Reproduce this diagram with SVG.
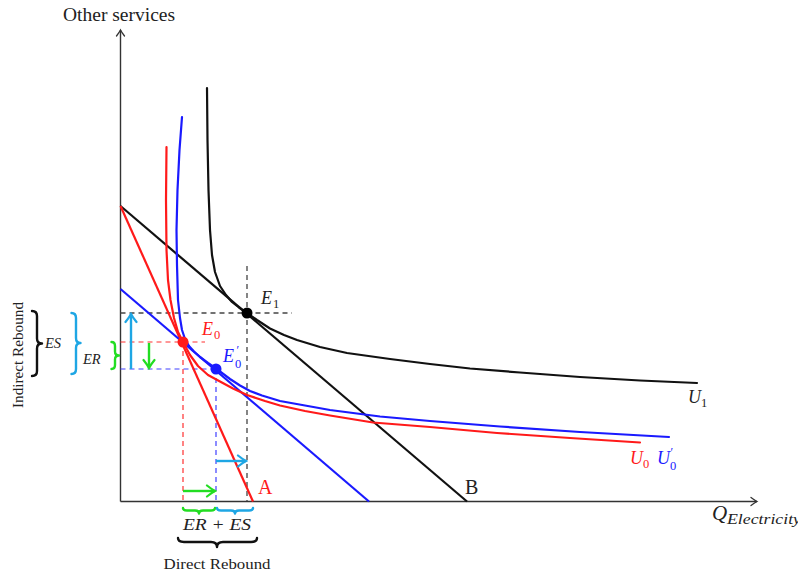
<svg xmlns="http://www.w3.org/2000/svg" width="798" height="577" viewBox="0 0 798 577">
<style>
text{font-family:"Liberation Serif","Times New Roman",serif;fill:#222}
.it{font-style:italic}
.axis{stroke:#333;stroke-width:1.4;fill:none}
.curve{fill:none;stroke-width:2.2;stroke-linejoin:round;stroke-linecap:round}
.dk{stroke:#444;stroke-width:1.3;stroke-dasharray:5 4;fill:none}
.dr{stroke:#ff3030;stroke-width:1.2;stroke-dasharray:5 4;fill:none}
.db{stroke:#4040ff;stroke-width:1.2;stroke-dasharray:5 4;fill:none}
.brace{fill:none;stroke-width:2.4;stroke-linecap:round;stroke-linejoin:round}
.arr{stroke-width:2.4;fill:none}
</style>
<defs>
<marker id="hAx" markerUnits="userSpaceOnUse" viewBox="-9 -6 11 12" markerWidth="11" markerHeight="12" refX="0" refY="0" orient="auto">
<path d="M-6,-4 Q-2,-1 0,0 Q-2,1 -6,4" fill="none" stroke="#333" stroke-width="1.3" stroke-linecap="round"/>
</marker>
<marker id="hCy" markerUnits="userSpaceOnUse" viewBox="-10 -7 12 14" markerWidth="12" markerHeight="14" refX="0" refY="0" orient="auto">
<path d="M-8,-5.5 Q-3,-1.5 0,0 Q-3,1.5 -8,5.5" fill="none" stroke="#1ea6e4" stroke-width="2.2" stroke-linecap="round"/>
</marker>
<marker id="hGr" markerUnits="userSpaceOnUse" viewBox="-10 -7 12 14" markerWidth="12" markerHeight="14" refX="0" refY="0" orient="auto">
<path d="M-8,-5.5 Q-3,-1.5 0,0 Q-3,1.5 -8,5.5" fill="none" stroke="#22dd22" stroke-width="2.2" stroke-linecap="round"/>
</marker>
</defs>

<g id="axes">
<line class="axis" x1="120.5" y1="501.5" x2="120.5" y2="30" marker-end="url(#hAx)"/>
<line class="axis" x1="120.5" y1="501.5" x2="757" y2="501.5" marker-end="url(#hAx)"/>
<text x="63" y="21" font-size="19.5">Other services</text>
<text x="712" y="520" font-size="21" class="it">Q</text>
<text x="727" y="524" font-size="14" class="it" textLength="74" lengthAdjust="spacingAndGlyphs">Electricity</text>
</g>

<g id="dashes">
<line class="dk" x1="120.5" y1="313" x2="292" y2="313"/>
<line class="dk" x1="247" y1="266" x2="247" y2="501"/>
<line class="dr" x1="120.5" y1="342" x2="205" y2="342"/>
<line class="dr" x1="183" y1="342" x2="183" y2="501"/>
<line class="db" x1="120.5" y1="369" x2="216" y2="369"/>
<line class="db" x1="216" y1="369" x2="216" y2="501"/>
</g>

<g id="connectors">
<line id="lineB" x1="120.5" y1="206" x2="467" y2="501.5" stroke="#111" stroke-width="2.2"/>
<line id="lineA" x1="120.5" y1="206" x2="253" y2="501.5" stroke="#ff1a1a" stroke-width="2.2"/>
<line id="lineC" x1="120.5" y1="289" x2="369" y2="501.5" stroke="#1a1aff" stroke-width="2.2"/>
</g>

<g id="U1">
<path class="curve" stroke="#111" d="M207,88 L207.5,140 L208.5,190 L210,230 L212,255 L215,272 L220,286 L226,295 L232,302 L239,307.5 L247,313 L257,320 L270,328.5 L284,335 L297,340 L320,347 L347,353 L390,359 L430,364 L470,368.5 L520,372.5 L580,377 L640,380.5 L697,383"/>
<text x="688" y="403" font-size="18" class="it">U</text>
<text x="701" y="407" font-size="12.5">1</text>
</g>

<g id="U0">
<path class="curve" stroke="#ff1a1a" d="M166.5,147 L166,200 L166.5,250 L168,280 L170.5,300 L174,318 L178,332 L183,342 L190,355 L198,366 L208,375 L220,381.5 L233,388.5 L247,395 L265,401 L280,405.5 L305,411 L330,415.5 L373,422.5 L430,427 L497,433 L570,438 L640,442.5"/>
<text x="630" y="464" font-size="18" class="it" style="fill:#ff1a1a">U</text>
<text x="643" y="468" font-size="12.5" style="fill:#ff1a1a">0</text>
</g>

<g id="U0p">
<path class="curve" stroke="#1a1aff" d="M182,117 L179.5,150 L177.5,190 L176.5,230 L177,265 L178,300 L180,318 L182,330 L185,339 L189,346 L194,351.5 L200,357 L208,363 L216,368.5 L230,379 L240,385.5 L250,391 L262,395.5 L280,401 L305,405.5 L330,410 L380,416.5 L430,421 L500,426.5 L580,432 L669,437"/>
<text x="657" y="464" font-size="18" class="it" style="fill:#1a1aff">U</text>
<text x="670.5" y="456" font-size="12" style="fill:#1a1aff">′</text>
<text x="670" y="470" font-size="12.5" style="fill:#1a1aff">0</text>
</g>

<g id="E1">
<circle cx="247" cy="313" r="5.5" fill="#000"/>
<text x="261" y="304" font-size="18" class="it">E</text>
<text x="273" y="308" font-size="12.5">1</text>
</g>
<g id="E0">
<circle cx="183" cy="342" r="5.5" fill="#ff1a1a"/>
<text x="202" y="335" font-size="18" class="it" style="fill:#ff1a1a">E</text>
<text x="214" y="339" font-size="12.5" style="fill:#ff1a1a">0</text>
</g>
<g id="E0p">
<circle cx="216" cy="369" r="5.5" fill="#1a1aff"/>
<text x="223" y="362" font-size="18" class="it" style="fill:#1a1aff">E</text>
<text x="236.5" y="354" font-size="12" style="fill:#1a1aff">′</text>
<text x="235" y="368" font-size="12.5" style="fill:#1a1aff">0</text>
</g>

<g id="labelA"><text x="258" y="494" font-size="20" style="fill:#ff1a1a">A</text></g>
<g id="labelB"><text x="465" y="494" font-size="20">B</text></g>

<g id="arrows">
<line class="arr" stroke="#1ea6e4" x1="131" y1="369" x2="131" y2="314" marker-end="url(#hCy)"/>
<line class="arr" stroke="#22dd22" x1="149" y1="343" x2="149" y2="368" marker-end="url(#hGr)"/>
<line class="arr" stroke="#22dd22" x1="183" y1="491" x2="215" y2="491" marker-end="url(#hGr)"/>
<line class="arr" stroke="#1ea6e4" x1="216" y1="461" x2="246" y2="461" marker-end="url(#hCy)"/>
</g>

<g id="leftBraces">
<path class="brace" stroke="#111" d="M32,311 Q37,311 37,316 L37,338.5 Q37,343.5 42,343.5 Q37,343.5 37,348.5 L37,371 Q37,376 32,376"/>
<text x="45" y="348" font-size="14.5" class="it">ES</text>
<path class="brace" stroke="#1ea6e4" d="M71.5,313 Q76,313 76,318 L76,338 Q76,343 80.5,343 Q76,343 76,348 L76,369 Q76,374 71.5,374"/>
<text x="83" y="364" font-size="14.5" class="it">ER</text>
<path class="brace" stroke="#22dd22" d="M111.5,342 Q115,342 115,346 L115,351.5 Q115,355.5 119,355.5 Q115,355.5 115,359.5 L115,365 Q115,369 111.5,369"/>
<text transform="translate(23,355) rotate(-90)" text-anchor="middle" font-size="15" textLength="106" lengthAdjust="spacingAndGlyphs">Indirect Rebound</text>
</g>

<g id="bottomBraces">
<path class="brace" stroke="#22dd22" d="M183,508 Q183,510.5 187,510.5 L195,510.5 Q199,510.5 199,513.5 Q199,510.5 203,510.5 L211,510.5 Q215,510.5 215,508"/>
<path class="brace" stroke="#1ea6e4" d="M217,508 Q217,510.5 221,510.5 L231,510.5 Q235,510.5 235,513.5 Q235,510.5 239,510.5 L249,510.5 Q253,510.5 253,508"/>
<text x="217" y="530" font-size="16" class="it" text-anchor="middle" textLength="68" lengthAdjust="spacingAndGlyphs">ER + ES</text>
<path class="brace" stroke="#111" d="M178,538 Q178,542 184,542 L211,542 Q217,542 217,547 Q217,542 223,542 L251,542 Q257,542 257,538"/>
<text x="217" y="569" font-size="15" text-anchor="middle" textLength="107" lengthAdjust="spacingAndGlyphs">Direct Rebound</text>
</g>
</svg>
